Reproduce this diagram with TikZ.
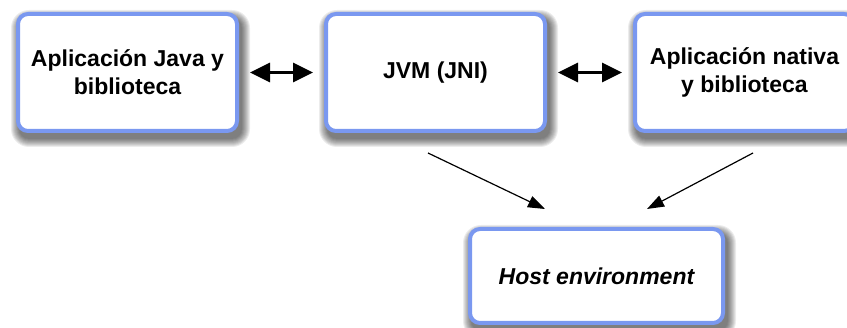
\documentclass[tikz,border=0pt]{standalone}
\usepackage{fontspec}
\setmainfont{Liberation Sans}
\usetikzlibrary{arrows.meta,calc,backgrounds}
\definecolor{boxline}{RGB}{122,152,240}
\begin{document}
\begin{tikzpicture}[x=1pt,y=-1pt,
  stagebox/.style={draw=boxline,line width=4pt,fill=white,rounded corners=10pt,
    minimum width=219pt,minimum height=117pt,align=center,
    font=\fontsize{23}{28}\selectfont\bfseries},
  biarrow/.style={line width=3pt,{Triangle[length=20pt,width=19pt]}-{Triangle[length=20pt,width=19pt]},shorten <=11pt,shorten >=11pt},
  uparrow/.style={line width=1.2pt,-{Triangle[length=17pt,width=12pt]}}]
\useasboundingbox (0,0) rectangle (847,328);
\node[stagebox] (java) at (127.5,72.5) {Aplicación Java y\\biblioteca};
\node[stagebox] (jvm) at (435.5,72.5) {JVM (JNI)};
\node[stagebox] (native) at (744.5,72.5) {Aplicación nativa\\y biblioteca};
\node[stagebox,minimum width=253pt,minimum height=94pt,font=\fontsize{23}{28}\selectfont\bfseries\itshape] (host) at (596.5,276) {Host environment};
% soft shadows under the boxes, built from stacked translucent layers
\begin{scope}[on background layer]
  \foreach \n in {java,jvm,native,host}
    \foreach \k in {0,...,8}
      \fill[black,opacity=0.075,rounded corners={10pt+\k pt}]
        ($(\n.south west)+(3-\k,6+\k)$) rectangle ($(\n.north east)+(3+\k,6-\k)$);
\end{scope}
\draw[biarrow] (java.east) -- (jvm.west);
\draw[biarrow] (jvm.east) -- (native.west);
\coordinate (jvmout) at ($(jvm.south)+(-7.5,20)$);
\coordinate (nativeout) at ($(native.south)+(8.5,20)$);
\coordinate (hostinl) at ($(host.north)+(-51.5,-18)$);
\coordinate (hostinr) at ($(host.north)+(50.5,-18)$);
\draw[uparrow] (jvmout) -- (hostinl);
\draw[uparrow] (nativeout) -- (hostinr);
\end{tikzpicture}
\end{document}
